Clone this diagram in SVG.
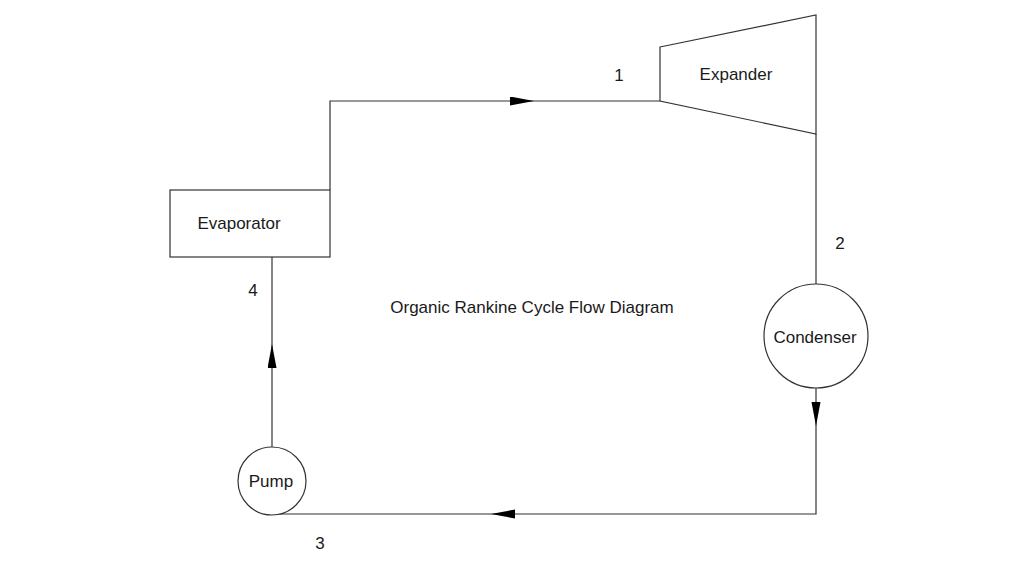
<svg xmlns="http://www.w3.org/2000/svg" width="1024" height="576" viewBox="0 0 1024 576">
<style>
.shape{fill:#fff;stroke:#333;stroke-width:1.2}
.line{fill:none;stroke:#333;stroke-width:1.2}
text{font-family:"Liberation Sans",Arial,sans-serif;font-size:17px;fill:#1a1a1a;text-anchor:middle;dominant-baseline:central}
</style>
<defs>
<marker id="arr" markerUnits="userSpaceOnUse" markerWidth="26" markerHeight="10" refX="24" refY="4.5" orient="auto">
<path d="M0,0 L24,4.5 L0,9 z" fill="#000"/>
</marker>
</defs>
<rect width="1024" height="576" fill="#fff"/>
<g id="connectors">
<path class="line" d="M330,190 V101 H534" marker-end="url(#arr)"/>
<path class="line" d="M534,101 H660"/>
<path class="line" d="M816,134 V284"/>
<path class="line" d="M816,388 V426" marker-end="url(#arr)"/>
<path class="line" d="M816,426 V514 H491" marker-end="url(#arr)"/>
<path class="line" d="M491,514 H272"/>
<path class="line" d="M272,447 V344" marker-end="url(#arr)"/>
<path class="line" d="M272,344 V257"/>
</g>
<g id="expander">
<polygon class="shape" points="660,47 816,15 816,134 660,101"/>
<text x="736" y="74">Expander</text>
</g>
<g id="evaporator">
<rect class="shape" x="170" y="190" width="160" height="67"/>
<text x="239" y="223">Evaporator</text>
</g>
<g id="condenser">
<circle class="shape" cx="816" cy="336" r="52"/>
<text x="815" y="337">Condenser</text>
</g>
<g id="pump">
<circle class="shape" cx="272" cy="481" r="34"/>
<text x="271" y="481">Pump</text>
</g>
<g id="labels">
<text x="619" y="75">1</text>
<text x="840" y="243">2</text>
<text x="320" y="543">3</text>
<text x="253" y="290">4</text>
<text x="532" y="307">Organic Rankine Cycle Flow Diagram</text>
</g>
</svg>
